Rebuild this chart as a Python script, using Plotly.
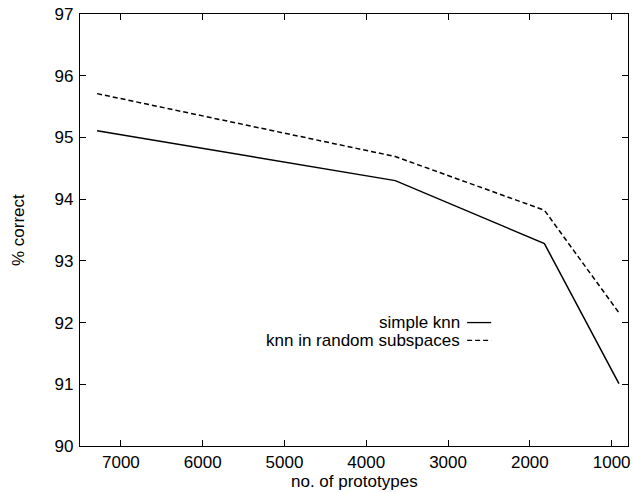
import plotly.graph_objects as go

prototypes = [7291, 3645, 1822, 911]
simple_knn = [95.11, 94.30, 93.28, 91.01]
knn_random_subspaces = [95.71, 94.69, 93.82, 92.16]
series_names = ["simple knn", "knn in random subspaces"]
x_ticks = [7000, 6000, 5000, 4000, 3000, 2000, 1000]
y_ticks = [90, 91, 92, 93, 94, 95, 96, 97]

FONT = "Liberation Sans, Arial, Helvetica, sans-serif"

fig = go.Figure()
fig.add_trace(go.Scatter(x=prototypes, y=simple_knn, mode="lines", name=series_names[0],
                         line=dict(color="black", width=1.5), showlegend=False))
fig.add_trace(go.Scatter(x=prototypes, y=knn_random_subspaces, mode="lines", name=series_names[1],
                         line=dict(color="black", width=1.5, dash="5px,3px"), showlegend=False))

# gnuplot-style legend: text right-aligned, sample line on its right
legend_rows = [(series_names[0], 92.0, "solid"), (series_names[1], 91.71, "5px,3px")]
for name, yv, dash in legend_rows:
    fig.add_annotation(x=0.6975, y=yv, xref="paper", yref="y", text=name, showarrow=False,
                       xanchor="right", yanchor="middle", font=dict(family=FONT, size=17, color="black"))
    fig.add_shape(type="line", xref="paper", yref="y", x0=0.7064, x1=0.7504, y0=yv, y1=yv,
                  line=dict(color="black", width=1.3, dash=dash))

# axis titles
fig.add_annotation(x=0.5, y=0, xref="paper", yref="paper", text="no. of prototypes", showarrow=False,
                   xanchor="center", yanchor="middle", yshift=-35,
                   font=dict(family=FONT, size=17, color="black"))
fig.add_annotation(x=0, y=0.5, xref="paper", yref="paper", text="% correct", showarrow=False,
                   xanchor="center", yanchor="middle", xshift=-62, textangle=-90,
                   font=dict(family=FONT, size=17, color="black"))

axis_common = dict(showline=True, linecolor="black", linewidth=1.3, mirror="ticks",
                   ticks="inside", ticklen=6, tickcolor="black", tickwidth=1.3,
                   showgrid=False, zeroline=False, automargin=False,
                   ticklabeloverflow="allow",
                   tickfont=dict(family=FONT, size=17, color="black"))

fig.update_xaxes(range=[7500, 800], tickvals=x_ticks, ticktext=[str(v) for v in x_ticks],
                 ticklabelstandoff=0, **axis_common)
fig.update_yaxes(range=[90, 97], tickvals=y_ticks, ticktext=[str(v) for v in y_ticks],
                 ticklabelstandoff=2, **axis_common)

fig.update_layout(width=633, height=492, margin=dict(l=80, r=5, t=14, b=46),
                  plot_bgcolor="white", paper_bgcolor="white", showlegend=False)

fig.write_html("out.html", config={"displayModeBar": False},
               post_script="document.body.style.margin='0';")
